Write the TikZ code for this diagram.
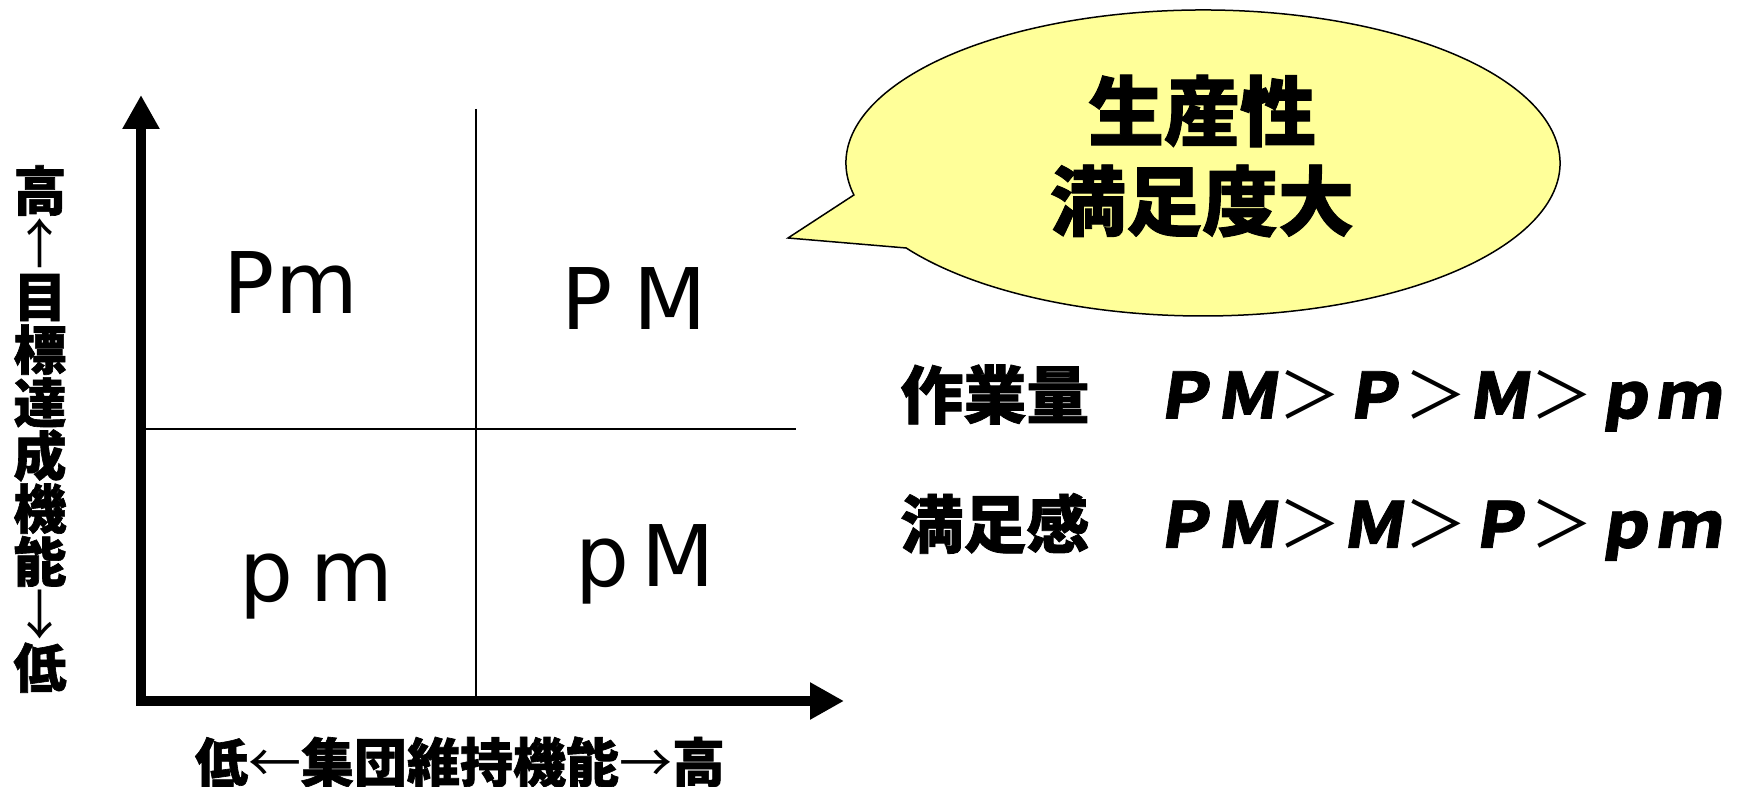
\documentclass[tikz,border=0pt]{standalone}
\usepackage{fontspec}
\usetikzlibrary{arrows.meta}
\newfontfamily\cjk{Noto Sans CJK JP}[BoldFeatures={FakeBold=1.2}]
\newfontfamily\cjksl{Noto Sans CJK JP}[FakeSlant=0.15,BoldFeatures={FakeBold=1.2}]
\newfontfamily\qfont{DejaVu Sans}
\definecolor{bubblefill}{HTML}{FFFF99}
\newcommand\gtsym{{\cjk\mdseries ＞}}
\newcommand\bl[1]{{\cjksl\bfseries #1}}
\newcommand\thin[1]{{\mdseries #1}}
\begin{document}
\begin{tikzpicture}[x=0.5pt,y=0.5pt,
  axisline/.style={line width=5.25pt,-{Triangle[length=17pt,width=17.5pt]}},
  divider/.style={line width=0.9pt},
  quad/.style={font=\qfont\fontsize{42.5pt}{44pt}\selectfont,inner sep=0pt,anchor=base},
  jlabel/.style={font=\cjk\bfseries\fontsize{26.5pt}{26.5pt}\selectfont,inner sep=0pt},
  btext/.style={font=\cjk\bfseries\fontsize{38pt}{40pt}\selectfont,inner sep=0pt},
  rowtext/.style={font=\cjk\bfseries\fontsize{31.5pt}{33pt}\selectfont,inner sep=0pt,anchor=west}]
\useasboundingbox (0,0) rectangle (1752,787);
% axes
\coordinate (origin) at (141,86);
\coordinate (ytip) at (141,692);
\coordinate (xtip) at (844,86);
\draw[axisline] (141,81) -- (ytip);
\draw[axisline] (origin) -- (xtip);
% dividers
\coordinate (hl) at (146,358);
\coordinate (hr) at (796,358);
\coordinate (vt) at (476,678);
\coordinate (vb) at (476,86);
\draw[divider] (hl) -- (hr);
\draw[divider] (vt) -- (vb);
% quadrant labels
\node[quad] (Pm) at (291,473) {Pm};
\node[quad] (PM) at (634,457) {P\kern10.5pt M};
\node[quad] (pm) at (316,185) {p\kern8.5pt m};
\node[quad] (pM) at (645,200) {p\kern6pt M};
% axis labels
\node[jlabel,align=center] (ylab) at (40,358) {高\\\thin{↑}\\目\\標\\達\\成\\機\\能\\\thin{↓}\\低};
\node[jlabel] (xlab) at (460,25) {低\thin{←}集団維持機能\thin{→}高};
% speech bubble
\filldraw[fill=bubblefill,draw=black,line width=0.75pt]
  (1203,624) ++(192.07:178.5pt and 76.5pt)
  arc[start angle=192.07,end angle=-146.25,x radius=178.5pt,y radius=76.5pt]
  -- (788,549) -- cycle;
\node[btext] (b1) at (1202,676) {生産性};
\node[btext] (b2) at (1202,586) {満足度大};
% comparison rows
\node[rowtext] (r1) at (900,389) {作業量　\bl{ＰＭ}\gtsym\bl{Ｐ}\gtsym\bl{Ｍ}\gtsym\bl{ｐｍ}};
\node[rowtext] (r2) at (900,260) {満足感　\bl{ＰＭ}\gtsym\bl{Ｍ}\gtsym\bl{Ｐ}\gtsym\bl{ｐｍ}};
\end{tikzpicture}
\end{document}
